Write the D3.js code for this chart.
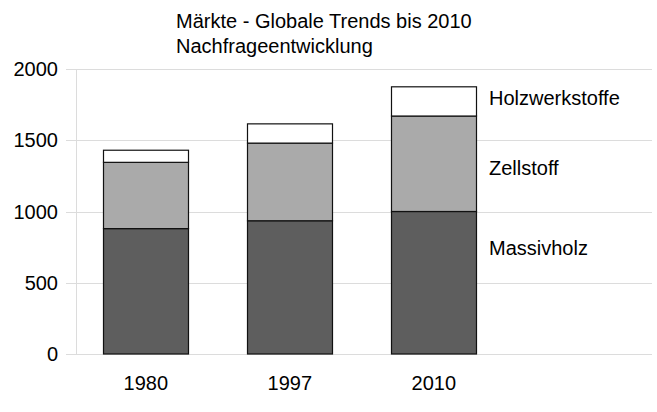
<!DOCTYPE html>
<html><head><meta charset="utf-8">
<script src="https://cdn.jsdelivr.net/npm/d3@7"></script>
<style>body{margin:0;background:#fff}svg{display:block;font-family:"Liberation Sans",Arial,sans-serif}</style>
</head><body><svg id="c" width="657" height="412"></svg>
<script>
const categories = ["1980", "1997", "2010"];
const seriesNames = ["Massivholz", "Zellstoff", "Holzwerkstoffe"];
const massivholz = [880, 935, 1000];
const zellstoff = [465, 545, 670];
const holzwerkstoffe = [85, 135, 205];
const yTicks = [0, 500, 1000, 1500, 2000];
const titleLines = ["Märkte - Globale Trends bis 2010", "Nachfrageentwicklung"];
const colors = ["#5e5e5e", "#aaaaaa", "#ffffff"];
const legendAt = [745, 1310, 1800];

const svg = d3.select("#c");
const plotL = 76, plotR = 652, plotT = 69, plotB = 354;
const step = 144, pIn = 0.41, pOut = 0.19;
const y = d3.scaleLinear().domain([0, 2000]).range([plotB, plotT]);
const x = d3.scaleBand().domain(categories)
  .range([plotL, plotL + step * (categories.length - pIn + 2 * pOut)])
  .paddingInner(pIn).paddingOuter(pOut);

const rows = categories.map((c, i) => ({cat: c, Massivholz: massivholz[i], Zellstoff: zellstoff[i], Holzwerkstoffe: holzwerkstoffe[i]}));
const stacked = d3.stack().keys(seriesNames)(rows);

// gridlines
svg.append("g").selectAll("line").data(yTicks).join("line")
  .attr("x1", 66).attr("x2", plotR)
  .attr("y1", d => Math.round(y(d)) + 0.5).attr("y2", d => Math.round(y(d)) + 0.5)
  .attr("stroke", "#dcdcdc").attr("stroke-width", 1);
svg.append("line").attr("x1", plotL + 0.5).attr("x2", plotL + 0.5)
  .attr("y1", plotT).attr("y2", plotB).attr("stroke", "#dcdcdc");

// y labels
svg.append("g").selectAll("text").data(yTicks).join("text")
  .attr("x", 58).attr("y", d => y(d)).attr("dy", "0.36em")
  .attr("text-anchor", "end").attr("font-size", 20).attr("fill", "#000")
  .text(d => d);

// bars
stacked.forEach((s, si) => {
  svg.append("g").selectAll("rect").data(s).join("rect")
    .attr("x", d => Math.round(x(d.data.cat)) + 0.5)
    .attr("width", Math.round(x.bandwidth()))
    .attr("y", d => y(d[1]))
    .attr("height", d => y(d[0]) - y(d[1]))
    .attr("fill", colors[si]).attr("stroke", "#111").attr("stroke-width", 1.2);
});

// x labels
svg.append("g").selectAll("text").data(categories).join("text")
  .attr("x", d => x(d) + x.bandwidth() / 2).attr("y", 390)
  .attr("text-anchor", "middle").attr("font-size", 20).attr("fill", "#000")
  .text(d => d);

// series labels
svg.append("g").selectAll("text").data(seriesNames).join("text")
  .attr("x", 489).attr("y", (d, i) => y(legendAt[i])).attr("dy", "0.36em")
  .attr("font-size", 20).attr("fill", "#000").text(d => d);

// title
svg.append("g").selectAll("text").data(titleLines).join("text")
  .attr("x", 176).attr("y", (d, i) => 28 + i * 25)
  .attr("font-size", 20).attr("fill", "#000").text(d => d);
</script></body></html>
